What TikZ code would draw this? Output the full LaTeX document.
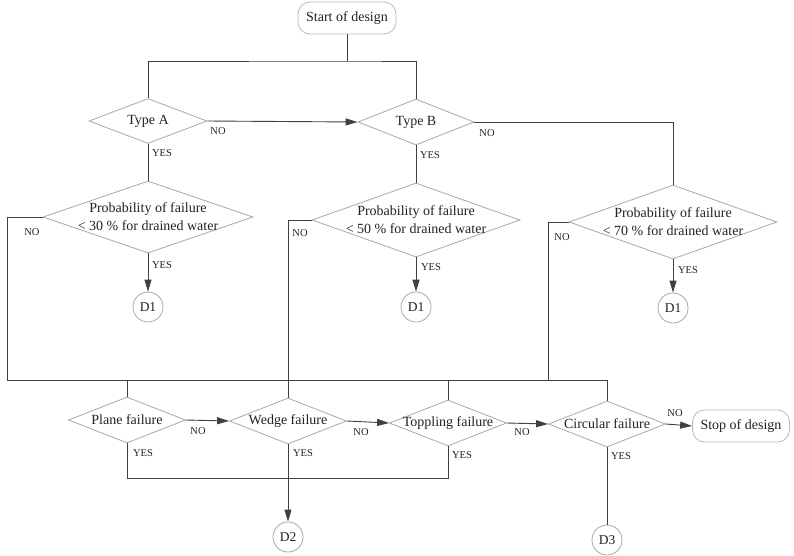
\documentclass[tikz,border=0pt]{standalone}
\usepackage{fontspec}
\setmainfont{Liberation Serif}
\usetikzlibrary{shapes.geometric,arrows.meta}
\definecolor{linecol}{HTML}{404040}
\definecolor{shapecol}{HTML}{A8A8A8}
\definecolor{txtcol}{HTML}{222222}

\begin{document}
\begin{tikzpicture}[x=1pt,y=-1pt,
  every node/.style={text=txtcol},
  conn/.style={draw=linecol, line width=0.9pt},
  arr/.style={conn, -{Triangle[length=12pt,width=7pt]}},
  dec/.style 2 args={diamond, draw=shapecol, line width=0.8pt, inner sep=0pt,
    minimum width=#1, minimum height=#2},
  dtext/.style={font=\fontsize{14}{18}\selectfont, align=center, inner sep=0pt},
  term/.style={rectangle, rounded corners=12pt, draw=shapecol!80, line width=0.8pt,
    minimum width=98pt, minimum height=32pt, font=\fontsize{14}{16}\selectfont},
  joint/.style={circle, draw=shapecol, line width=0.8pt, minimum size=30pt,
    inner sep=0pt, font=\fontsize{13.5}{15}\selectfont},
  tag/.style={font=\fontsize{10.5}{12}\selectfont, inner sep=0pt},
]
\fill[white] (0,0) rectangle (794,555);
\useasboundingbox (0,0) rectangle (794,555);

% terminals
\node[term] (start) at (347,18) {Start of design};
\node[term, minimum width=97pt] (stop) at (741,426) {Stop of design};

% slope type decisions
\node[dec={118pt}{45pt}, label={[dtext]center:Type A}] (tA) at (148,121) {};
\node[dec={116pt}{46pt}, label={[dtext]center:Type B}] (tB) at (416,122) {};

% probability checks
\node[dec={210pt}{72pt}, label={[dtext]center:{Probability of failure\\< 30 \% for drained water}}] (p1) at (148,217) {};
\node[dec={208pt}{74pt}, label={[dtext]center:{Probability of failure\\< 50 \% for drained water}}] (p2) at (416,220) {};
\node[dec={208pt}{74pt}, label={[dtext]center:{Probability of failure\\< 70 \% for drained water}}] (p3) at (673,222) {};

\node[joint] (d1a) at (148,307) {D1};
\node[joint] (d1b) at (416,307) {D1};
\node[joint] (d1c) at (673,308) {D1};

% failure modes
\node[dec={117pt}{46pt}, label={[dtext]center:Plane failure}] (pl) at (127,420) {};
\node[dec={117pt}{46pt}, label={[dtext]center:Wedge failure}] (wd) at (288,421) {};
\node[dec={117pt}{46pt}, label={[dtext]center:Toppling failure}] (tp) at (448,423) {};
\node[dec={117pt}{46pt}, label={[dtext]center:Circular failure}] (cr) at (607,424) {};

\node[joint] (d2) at (288,537) {D2};
\node[joint] (d3) at (607,540) {D3};

% routing points
\coordinate (j0) at (347,61);
\coordinate (busL) at (7,380);
\coordinate (n3) at (548,380);
\coordinate (yb) at (288,478);

% connectors
\draw[conn] (start) -- (j0);
\draw[conn] (tA.north) |- (j0) -| (tB.north);
\draw[arr] (tA.east) -- (tB.west);
\draw[conn] (tB.east) -| (p3.north);
\draw[conn] (tA.south) -- (p1.north);
\draw[conn] (tB.south) -- (p2.north);
\draw[arr] (p1.south) -- (d1a.north);
\draw[arr] (p2.south) -- (d1b.north);
\draw[arr] (p3.south) -- (d1c.north);

\draw[conn] (p1.west) -| (busL) -- (cr.north |- busL) -- (cr.north);
\draw[conn] (pl.north) -- (pl.north |- busL);
\draw[conn] (tp.north) -- (tp.north |- busL);
\draw[conn] (p3.west) -| (n3);
\draw[conn] (p2.west) -| (wd.north);

\draw[arr] (pl.east) -- (wd.west);
\draw[arr] (wd.east) -- (tp.west);
\draw[arr] (tp.east) -- (cr.west);
\draw[arr] (cr.east) -- (stop.west);

\draw[conn] (pl.south) |- (yb) -| (tp.south);
\draw[arr] (wd.south) -- (d2.north);
\draw[conn] (cr.south) -- (d3.north);

% branch tags
\node[tag] at (218,131) {NO};
\node[tag] at (487,133) {NO};
\node[tag] at (162,153) {YES};
\node[tag] at (430,155) {YES};
\node[tag] at (32,232) {NO};
\node[tag] at (162,265) {YES};
\node[tag] at (300,233) {NO};
\node[tag] at (431,267) {YES};
\node[tag] at (562,237) {NO};
\node[tag] at (688,270) {YES};
\node[tag] at (198,431) {NO};
\node[tag] at (361,432) {NO};
\node[tag] at (522,432) {NO};
\node[tag] at (675,413) {NO};
\node[tag] at (143,453) {YES};
\node[tag] at (303,453) {YES};
\node[tag] at (462,455) {YES};
\node[tag] at (621,456) {YES};
\end{tikzpicture}
\end{document}
